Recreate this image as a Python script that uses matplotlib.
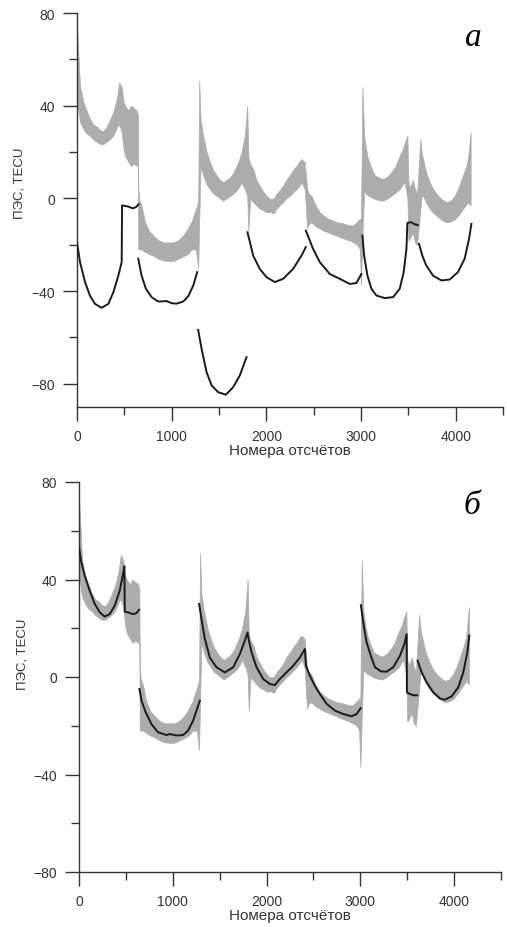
import numpy as np
import matplotlib
matplotlib.use("Agg")
import matplotlib.pyplot as plt
from matplotlib.ticker import MultipleLocator

nan = np.nan

# Gray measured TEC series (noise envelope: lower / upper bound)
gray_x = [0, 15, 32, 67, 100, 137, 170, 208, 245, 278, 315, 348, 380, 401, 425, 445, 472,
          490, 510, 540, 570, 600, 630, 644,
          647, 660, 680, 718, 760, 806, 860, 911, 960, 1017, 1070, 1122, 1170, 1210, 1256, 1280,
          1291, 1305, 1333, 1370, 1404, 1440, 1474, 1510, 1544, 1580, 1615, 1650, 1685, 1715,
          1738, 1773, 1798,
          1810, 1830, 1861, 1895, 1931, 1965, 2001, 2037, 2079, 2107, 2140, 2177, 2210, 2248,
          2280, 2318, 2350, 2371, 2395, 2406, 2431, 2450, 2477, 2520, 2565, 2610, 2653, 2700,
          2741, 2785, 2829, 2870, 2916, 2960, 2987, 3000,
          3015, 3033, 3055, 3075, 3110, 3145, 3190, 3233, 3280, 3321, 3365, 3409, 3440, 3462, 3490,
          3500, 3510, 3530, 3550, 3570, 3592,
          3627, 3640, 3655, 3690, 3726, 3770, 3813, 3860, 3902, 3945, 3990, 4035, 4077, 4105,
          4130, 4158]
gray_lo = [40, 38, 33, 30, 28, 27, 25.5, 24.4, 23.5, 23.5, 24.5, 25.6, 27, 28.6, 31, 32, 28.6,
           22, 18, 16, 14, 15, 14, 16,
           -22, -22, -22, -23, -24, -24.7, -26, -26.8, -27, -27, -26, -25, -24, -22, -22, -30,
           -10, 14, 10, 6, 4, 2, 1.2, 0, -1, 0, 1, 2, 3.4, 5,
           7, 4, 1,
           -14, 0, -1.6, -3, -4.5, -5, -6, -5.8, -6.5, -4.5, -3, -1.6, 0, 1.2,
           2.5, 4, 5.5, 7, 5, 4, -13, -11, -10.3, -12, -13, -14, -14.6, -15.5,
           -16, -16.8, -17.5, -18, -18.9, -20, -21.8, -37,
           -16, 2.7, 2, 1.2, 0.5, -0.2, -0.8, -1, 0, 1.2, 2.5, 4, 6, 7, 0,
           -18, -18, -16, -15, -19, -20,
           -5, 1, 1.2, -2, -4.5, -6.5, -8, -9.5, -10.3, -10, -9, -7, -4.5, -3,
           -1.6, -3]
gray_hi = [73, 62, 48.5, 41.6, 38, 34.3, 32, 31, 29.5, 29, 31, 34, 37, 40, 44, 50, 48,
           42, 40, 38, 40, 39, 38, 36,
           4, -1, -3, -10, -14, -16, -18, -19, -19, -19, -18, -16, -13, -10, -4.5, -1.5,
           50.8, 34, 27, 20, 15.7, 12, 10, 8, 7, 8, 9, 11, 14, 17,
           20, 27, 40,
           18, 15, 12.7, 8, 5.5, 3, 1.2, -0.2, 0, 2, 3.5, 5.5, 8, 10,
           12, 14, 16, 17, 16, 15.7, 4, 2, 1.2, -3, -6, -7.5, -8.8, -9.5,
           -10.3, -10.5, -11, -11.5, -11.7, -10, -8.8, -9,
           48, 27, 21, 17, 13, 10, 9, 8.4, 9.5, 11.3, 14, 18.5, 21, 24, 27,
           8, 5, 6, 8, 4, 2,
           25.6, 20, 17, 11, 7, 3.5, 1.2, -0.5, -1.6, -1, 1.2, 5, 10, 13,
           17, 28.6]

# Panel a: smooth model curves (shifted down)
top_x = [0, 32, 84, 137, 190, 260, 331, 384, 437, 472, 476, 540, 590, 625, 650, nan,
         647, 682, 728, 788, 858, 946, 999, 1052, 1122, 1175, 1228, 1270, nan,
         1280, 1316, 1369, 1422, 1491, 1573, 1650, 1720, 1791, nan,
         1801, 1861, 1931, 2002, 2090, 2177, 2283, 2371, 2417, nan,
         2417, 2494, 2565, 2670, 2776, 2881, 2952, 3004, nan,
         3015, 3033, 3068, 3110, 3163, 3251, 3339, 3409, 3451, 3480, 3490, 3530, 3560, 3600, nan,
         3613, 3648, 3690, 3761, 3849, 3937, 4024, 4095, 4141, 4166]
top_y = [-19, -27.5, -36, -42, -45.5, -47.2, -45.5, -40.5, -33.3, -27.5, -3, -3.5, -4.3, -3.7, -2.5, nan,
         -26, -33.3, -39, -42.6, -44.5, -44.3, -45.2, -45.4, -44.5, -42.2, -37.6, -31.8, nan,
         -56.7, -64.9, -75, -80.7, -83.6, -84.7, -81.4, -76.4, -68.5, nan,
         -14.6, -24.7, -30.4, -34, -36.1, -34.7, -30.4, -24.7, -21, nan,
         -13.9, -21.8, -27.5, -32.6, -34.7, -36.9, -36.5, -32.6, nan,
         -16, -24.7, -33.3, -39, -41.9, -43, -42.6, -39, -31.8, -21.8, -10.5, -10.3, -11, -11.5, nan,
         -19.6, -24.7, -29, -33.3, -35.4, -35, -31.8, -26, -17.5, -11]

# Panel b: smooth model curves over data
bot_x = [0, 25, 61, 114, 168, 221, 274, 328, 381, 434, 470, 484, 488, 523, 577, 612, 641, nan,
         645, 666, 712, 772, 843, 932, 967, 1039, 1110, 1163, 1217, 1270, 1289, nan,
         1281, 1306, 1342, 1395, 1466, 1555, 1644, 1715, 1768, 1797,
         1808, 1840, 1893, 1964, 2035, 2089, 2142, 2213, 2284, 2355, 2409,
         2420, 2462, 2515, 2569, 2640, 2729, 2818, 2907, 2960, 3003, nan,
         3006, 3031, 3067, 3112, 3156, 3219, 3281, 3351, 3422, 3469, 3494, 3497, 3529, 3572, 3607, nan,
         3611, 3654, 3707, 3778, 3849, 3903, 3974, 4045, 4098, 4141, 4162]
bot_y = [53.2, 47, 41.6, 35.4, 30, 26.5, 24.8, 25.8, 29.3, 35.4, 42.3, 45.4, 26.8, 26.5, 25.8, 26.2, 27.6, nan,
         -4.9, -9.7, -14.5, -19.3, -22.7, -23.8, -23.4, -24, -23.8, -22, -17.9, -11.8, -9.7, nan,
         30, 23.8, 15.6, 8, 4, 1.9, 4, 9.4, 14.9, 18.3,
         15.6, 10.1, 4, -0.8, -2.9, -3.3, -0.8, 1.9, 4.6, 8, 11.5,
         4.6, 0.5, -3.6, -7, -11, -13.8, -15.2, -16.1, -15.2, -12.8, nan,
         29.5, 22.4, 14.2, 8.7, 4, 2.3, 2.2, 4, 8.7, 13.5, 17.6, -6.3, -7, -7.5, -7.5, nan,
         6.7, 1.9, -2.2, -6.3, -8.8, -9.3, -7.9, -4.2, 1.9, 10.1, 17]

x_ticks = [0, 1000, 2000, 3000, 4000]
y_ticks = [-80, -40, 0, 40, 80]
xlabel = "Номера отсчётов"
ylabel = "ПЭС, TECU"
panel_labels = ["а", "б"]

plt.rcParams['font.family'] = ['Liberation Sans', 'DejaVu Sans']

fig = plt.figure(figsize=(5.07, 9.28), dpi=100)
ax1 = fig.add_axes([77 / 507, 1 - 408 / 928, 426 / 507, 394 / 928])
ax2 = fig.add_axes([79 / 507, 1 - 873 / 928, 422 / 507, 390 / 928])

GRAY = '#acacac'
gx = np.array(gray_x, float)
glo = np.array(gray_lo, float)
ghi = np.array(gray_hi, float)

for ax, ylim, bx, by, lab, ylab_y in [(ax1, (-90, 80), top_x, top_y, panel_labels[0], 0.57),
                                        (ax2, (-80, 80), bot_x, bot_y, panel_labels[1], 0.56)]:
    ax.fill_between(gx, glo, ghi, color=GRAY, linewidth=0.5, edgecolor=GRAY, zorder=1)
    ax.plot(bx, by, color='#1a1a1a', linewidth=1.4, zorder=3)
    ax.set_xlim(0, 4500)
    ax.set_ylim(*ylim)
    ax.set_xticks(x_ticks)
    ax.set_yticks(y_ticks)
    ax.xaxis.set_minor_locator(MultipleLocator(500))
    ax.yaxis.set_minor_locator(MultipleLocator(20))
    for s in ['top', 'right']:
        ax.spines[s].set_visible(False)
    for s in ['left', 'bottom']:
        ax.spines[s].set_linewidth(1.0)
        ax.spines[s].set_color('#333333')
    ax.tick_params(which='major', direction='out', length=10, width=1.0, color='#333333',
                   labelsize=10, labelcolor='#333333', pad=6)
    ax.tick_params(which='minor', direction='out', length=5.5, width=1.0, color='#333333')
    ax.set_xlabel(xlabel, fontsize=11, color='#333333', labelpad=0)
    ax.set_ylabel(ylabel, fontsize=9.5, color='#333333')
    ax.yaxis.set_label_coords(-0.12, ylab_y)
    ax.text(0.93, 0.92, lab, transform=ax.transAxes, ha='center', va='baseline',
            fontsize=24, style='italic', family=['Liberation Serif', 'DejaVu Serif'])

fig.savefig('out.png', dpi=100)
